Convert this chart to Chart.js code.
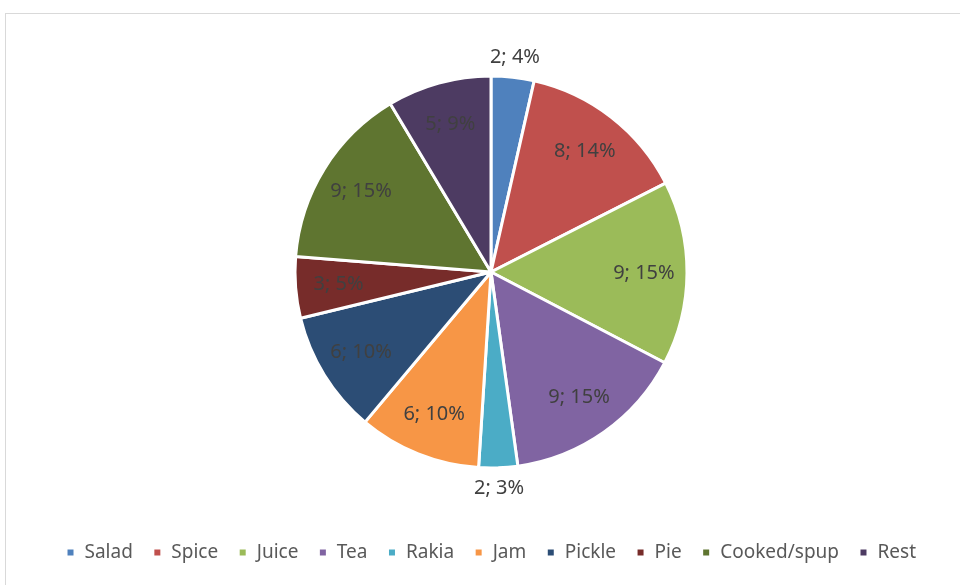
<!DOCTYPE html>
<html>
<head>
<meta charset="utf-8">
<script src="https://cdn.jsdelivr.net/npm/chart.js@4.4.1/dist/chart.umd.min.js"></script>
<style>
  html, body { margin: 0; padding: 0; background: #fff; }
  #wrap { position: relative; width: 960px; height: 585px; overflow: hidden; }
  #frame { position: absolute; left: 5px; top: 13px; width: 1000px; height: 700px; border: 1px solid #d9d9d9; box-sizing: border-box; }
  canvas { position: absolute; left: 0; top: 0; }
</style>
</head>
<body>
<div id="wrap">
  <div id="frame"></div>
  <canvas id="pie-chart" width="960" height="585"></canvas>
</div>
<script>
// chart data
const categories = ["Salad", "Spice", "Juice", "Tea", "Rakia", "Jam", "Pickle", "Pie", "Cooked/spup", "Rest"];
const values = [2.1, 8.3, 9, 9, 1.9, 6, 6, 3, 9, 5.1];
const colors = ["#4F81BD", "#C0504D", "#9BBB59", "#8064A2", "#4BACC6", "#F79646", "#2C4D75", "#772C2A", "#5F7530", "#4D3B62"];
const outside = ["Salad", "Rakia"];

const fontFamily = '"Noto Sans", sans-serif';

// draws "value; percent" on each slice, like the Excel data labels
const sliceLabels = {
  id: 'sliceLabels',
  afterDatasetsDraw(chart) {
    const ctx = chart.ctx;
    const meta = chart.getDatasetMeta(0);
    const total = values.reduce((a, b) => a + b, 0);
    ctx.save();
    ctx.font = '20px ' + fontFamily;
    ctx.fillStyle = '#404040';
    ctx.textAlign = 'center';
    ctx.textBaseline = 'middle';
    meta.data.forEach((arc, i) => {
      const p = arc.getProps(['x', 'y', 'startAngle', 'endAngle', 'outerRadius'], true);
      const mid = (p.startAngle + p.endAngle) / 2;
      const d = outside.includes(categories[i]) ? p.outerRadius + 20 : p.outerRadius * 0.78;
      const text = Math.round(values[i]) + '; ' + Math.round(values[i] / total * 100) + '%';
      ctx.fillText(text, p.x + Math.cos(mid) * d, p.y + Math.sin(mid) * d);
    });
    ctx.restore();
  }
};

new Chart(document.getElementById('pie-chart'), {
  type: 'pie',
  data: {
    labels: categories,
    datasets: [{
      data: values,
      backgroundColor: colors,
      borderColor: '#ffffff',
      borderWidth: 3
    }]
  },
  options: {
    responsive: false,
    animation: false,
    radius: 196,
    layout: { padding: { top: 21, left: 22, right: 0, bottom: 13 } },
    plugins: {
      legend: {
        position: 'bottom',
        labels: {
          boxWidth: 9,
          boxHeight: 9,
          padding: 20,
          color: '#595959',
          font: { family: fontFamily, size: 19 }
        }
      },
      tooltip: { enabled: false }
    }
  },
  plugins: [sliceLabels]
});
</script>
</body>
</html>
